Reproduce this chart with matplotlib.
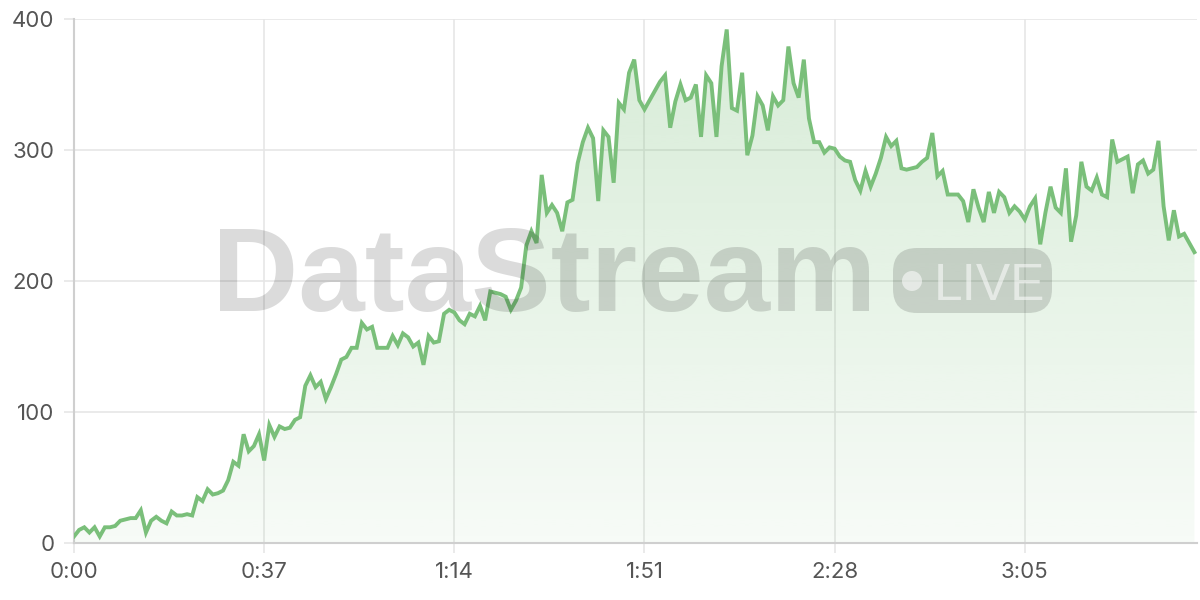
import matplotlib
matplotlib.use("Agg")
import matplotlib.pyplot as plt
import numpy as np
from matplotlib.patches import FancyBboxPatch, Circle
from matplotlib.ticker import FuncFormatter, FixedLocator

# ---- data (one sample per second) ----
values = [
    5, 10, 12, 8, 12, 5, 12, 12, 13, 17,
    18, 19, 19, 25, 8, 17, 20, 17, 15, 24,
    21, 21, 22, 21, 35, 32, 41, 37, 38, 40,
    48, 62, 59, 83, 70, 74, 83, 63, 90, 81,
    89, 87, 88, 94, 96, 120, 128, 119, 123, 110,
    119, 129, 140, 142, 149, 149, 168, 163, 165, 149,
    149, 149, 158, 151, 160, 157, 150, 153, 136, 158,
    153, 154, 175, 178, 176, 170, 167, 175, 173, 181,
    170, 192, 191, 190, 188, 178, 185, 195, 227, 238,
    229, 281, 252, 258, 252, 238, 260, 262, 290, 306,
    317, 309, 261, 315, 310, 275, 336, 331, 359, 369,
    338, 331, 338, 345, 352, 357, 317, 337, 350, 338,
    340, 350, 310, 357, 351, 310, 364, 392, 332, 330,
    359, 296, 311, 341, 334, 315, 341, 334, 338, 379,
    351, 340, 369, 324, 306, 306, 298, 302, 301, 295,
    292, 291, 277, 269, 284, 272, 282, 294, 310, 303,
    307, 286, 285, 286, 287, 291, 294, 313, 280, 284,
    266, 266, 266, 261, 245, 270, 256, 245, 268, 252,
    268, 264, 252, 257, 253, 247, 257, 263, 228, 252,
    272, 256, 252, 286, 230, 250, 291, 272, 269, 279,
    266, 264, 308, 291, 293, 295, 267, 289, 292, 282,
    285, 307, 257, 231, 254, 234, 236, 229, 222,
]
seconds = list(range(len(values)))
x_ticks = [0, 37, 74, 111, 148, 185]
y_ticks = [0, 100, 200, 300, 400]
watermark_text = "DataStream"
badge_text = "LIVE"

LINE = "#7abf7a"
GRID = "#e6e6e6"
AXIS = "#cfcfcf"
LABEL = "#555555"

plt.rcParams['font.family'] = ['Inter', 'DejaVu Sans']

fig = plt.figure(figsize=(12, 6), dpi=100)
ax = fig.add_axes([74/1200, 1-543/600, (1197-74)/1200, (543-19)/600])

x = np.array(seconds, dtype=float)
y = np.array(values, dtype=float)

ax.set_xlim(0, 218.5)
ax.set_ylim(0, 400)

# gradient fill under the line
poly = ax.fill_between(x, y, 0, color='none', linewidth=0, zorder=2)
n = 256
grad = np.zeros((n, 1, 4))
g = np.array([120, 190, 120]) / 255.0
grad[:, 0, :3] = g
grad[:, 0, 3] = np.linspace(0.30, 0.06, n)   # row 0 = top
im = ax.imshow(grad, extent=[0, 218.5, 0, 400], origin='upper', aspect='auto',
               zorder=2, interpolation='bilinear')
path = poly.get_paths()[0]
im.set_clip_path(path, transform=ax.transData)
ax.set_xlim(0, 218.5)
ax.set_ylim(0, 400)

# watermark (figure pixel coords)
wm_color = (0.0, 0.0, 0.0, 0.14)
fig.text(212/1200, 1-311/600, watermark_text, fontsize=86, fontweight='bold',
         family='Liberation Sans', color=wm_color, ha='left', va='baseline', zorder=3)
pill = FancyBboxPatch((893/1200, 1-313/600), (1052-893)/1200, 65/600,
                      boxstyle="round,pad=0,rounding_size=0.02",
                      transform=fig.transFigure, facecolor=wm_color, edgecolor='none',
                      zorder=3, mutation_aspect=2.0)
fig.patches.append(pill)
circ = Circle((912, 600-281), 10, transform=None, facecolor=(1, 1, 1, 0.55),
              edgecolor='none', zorder=4)
fig.patches.append(circ)
fig.text(934/1200, 1-300/600, badge_text, fontsize=37, family='Liberation Sans',
         color=(1, 1, 1, 0.55), ha='left', va='baseline', zorder=4)

# line
ax.plot(x, y, color=LINE, linewidth=2.8, zorder=5, solid_joinstyle='miter')

# axes styling
for s in ['top', 'right']:
    ax.spines[s].set_visible(False)
ax.spines['left'].set_color(AXIS)
ax.spines['left'].set_linewidth(1.5)
ax.spines['bottom'].set_color(AXIS)
ax.spines['bottom'].set_linewidth(1.5)
ax.spines['left'].set_zorder(1)
ax.spines['bottom'].set_zorder(6)

ax.xaxis.set_major_locator(FixedLocator(x_ticks))
ax.yaxis.set_major_locator(FixedLocator(y_ticks))
ax.xaxis.set_major_formatter(FuncFormatter(lambda v, p: f"{int(v)//60}:{int(v)%60:02d}"))
ax.yaxis.set_major_formatter(FuncFormatter(lambda v, p: f"{int(v)}"))
ax.grid(True, color=GRID, linewidth=1.2, zorder=0)
ax.set_axisbelow(True)
ax.tick_params(axis='x', length=7, width=1.2, color=GRID, pad=7, labelsize=16, labelcolor=LABEL)
ax.tick_params(axis='y', length=7, width=1.2, color=GRID, pad=7, labelsize=16, labelcolor=LABEL)

fig.savefig("out.png", dpi=100)
